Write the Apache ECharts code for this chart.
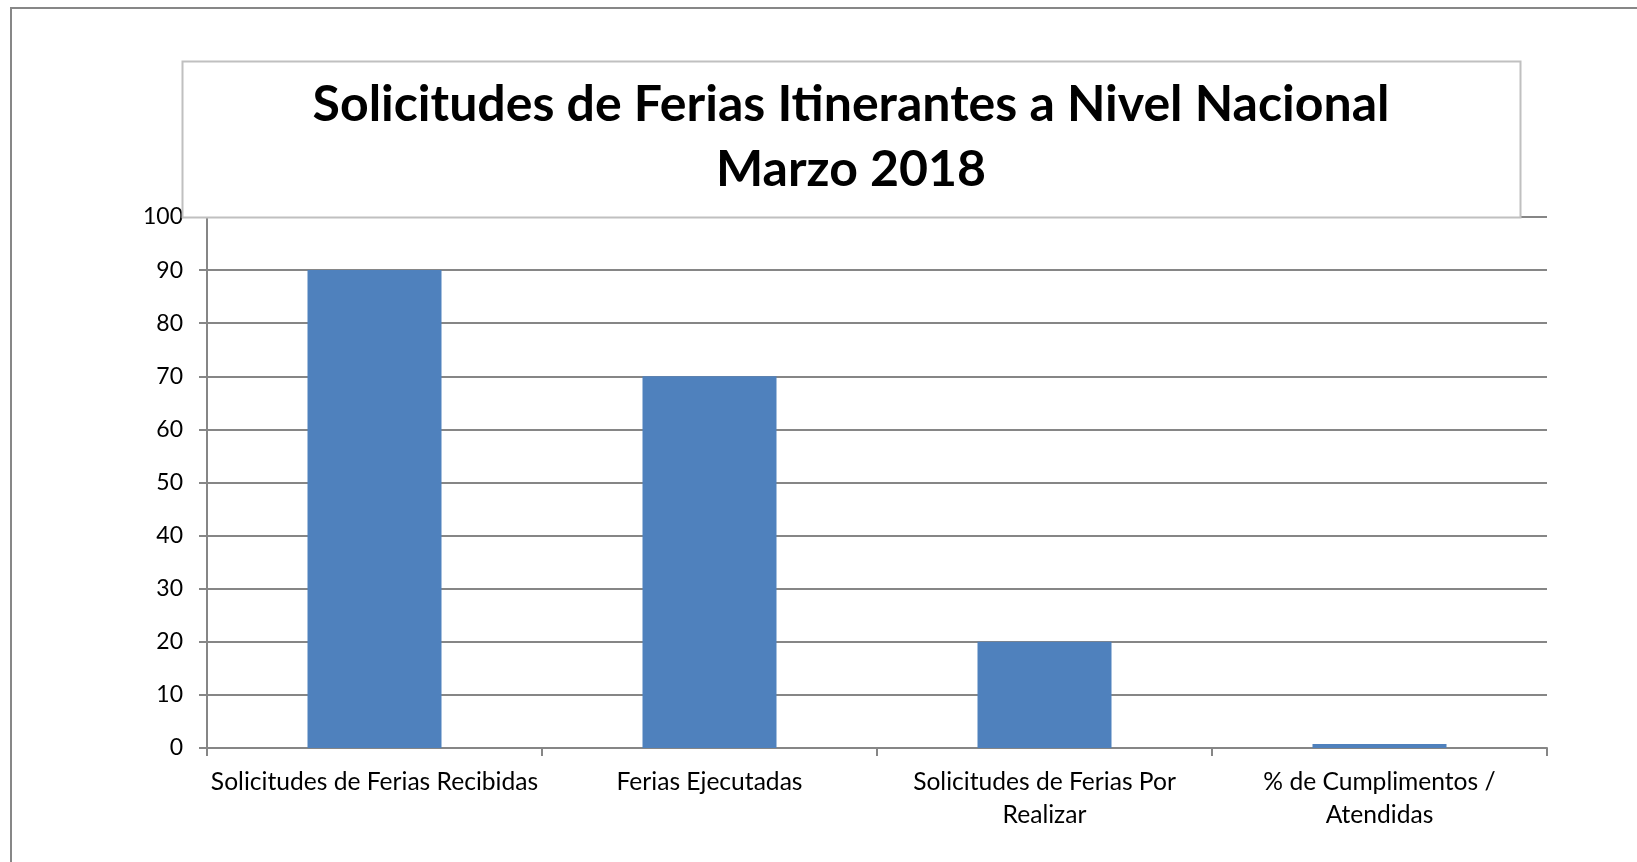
<!DOCTYPE html>
<html lang="es">
<head>
<meta charset="UTF-8">
<title>Solicitudes de Ferias Itinerantes</title>
<style>
  html, body { margin: 0; padding: 0; background: #fff; }
  #chart { width: 1637px; height: 862px; }
</style>
</head>
<body>
<div id="chart"></div>
<script src="https://cdn.jsdelivr.net/npm/echarts@6/dist/echarts.min.js"></script>
<script>
  const categories = [
    'Solicitudes de Ferias Recibidas',
    'Ferias Ejecutadas',
    'Solicitudes de Ferias Por\nRealizar',
    '% de Cumplimentos /\nAtendidas'
  ]
  const values = [90, 70, 20, 0.75]
  const yTicks = { min: 0, max: 100, interval: 10 }

  const chart = echarts.init(document.getElementById('chart'))
  const font = 'Lato, "Open Sans", sans-serif'

  chart.setOption({
    animation: false,
    grid: { left: 207, right: 90, top: 217, bottom: 114 },
    xAxis: {
      type: 'category',
      data: categories,
      axisLine: { lineStyle: { color: '#868686', width: 2 } },
      axisTick: { show: true, length: 8, lineStyle: { color: '#868686', width: 2 } },
      axisLabel: { color: '#000', fontFamily: font, fontSize: 24.6, margin: 18, lineHeight: 33, interval: 0 }
    },
    yAxis: {
      type: 'value',
      min: yTicks.min,
      max: yTicks.max,
      interval: yTicks.interval,
      axisLine: { show: true, lineStyle: { color: '#868686', width: 2 } },
      axisTick: { show: true, length: 8, lineStyle: { color: '#868686', width: 2 } },
      axisLabel: { color: '#000', fontFamily: font, fontSize: 23, margin: 24 },
      splitLine: { lineStyle: { color: '#868686', width: 2 } }
    },
    series: [{
      type: 'bar',
      data: values,
      barWidth: '40%',
      itemStyle: { color: '#4F81BD' }
    }],
    graphic: [
      // outer chart frame
      {
        type: 'rect', z: 0, silent: true,
        shape: { x: 11, y: 8, width: 1700, height: 900 },
        style: { fill: null, stroke: '#878787', lineWidth: 2 }
      },
      // title box
      {
        type: 'rect', z: 100, silent: true,
        shape: { x: 182.5, y: 61.5, width: 1338, height: 156 },
        style: { fill: '#fff', stroke: '#C0C0C0', lineWidth: 2 }
      },
      {
        type: 'text', z: 101, silent: true,
        x: 851, y: 137,
        style: {
          text: 'Solicitudes de Ferias Itinerantes a Nivel Nacional\nMarzo 2018',
          fill: '#000',
          font: 'bold 50px ' + font,
          align: 'center',
          verticalAlign: 'middle',
          lineHeight: 65
        }
      }
    ]
  })
</script>
</body>
</html>
